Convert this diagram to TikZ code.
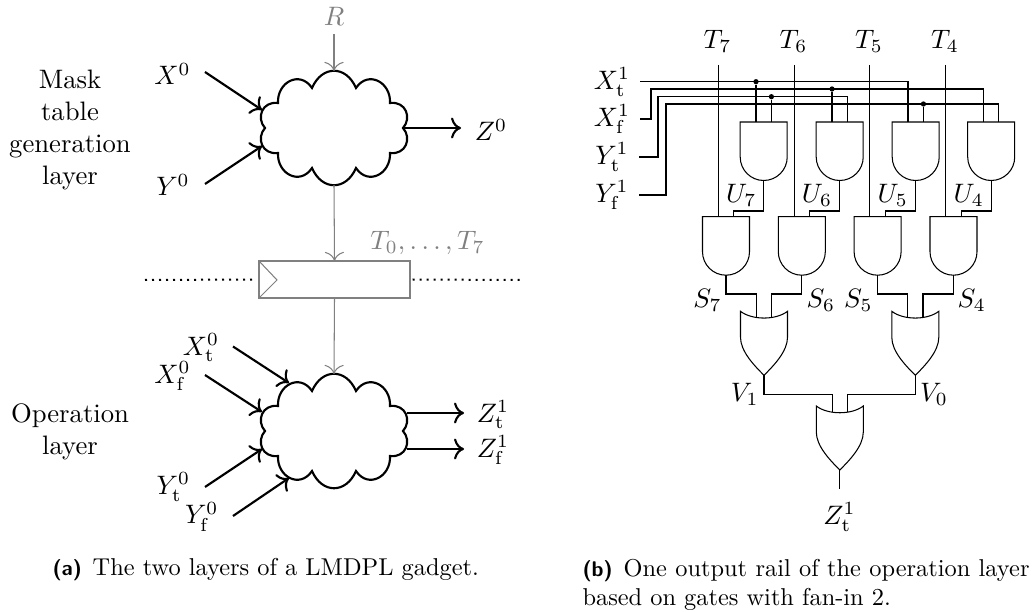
\documentclass[tikz,border=0pt]{standalone}
\usetikzlibrary{arrows.meta}
\begin{document}
\newcommand{\cloudshape}{
  (69,0) .. controls (78,-10) and (72,-27) .. (56,-25)
  .. controls (57,-46) and (34,-58) .. (22,-40)
  .. controls (12,-63) and (-12,-63) .. (-22,-40)
  .. controls (-34,-58) and (-57,-46) .. (-56,-25)
  .. controls (-72,-27) and (-78,-10) .. (-69,0)
  .. controls (-78,10) and (-72,27) .. (-56,25)
  .. controls (-57,46) and (-34,58) .. (-22,40)
  .. controls (-12,63) and (12,63) .. (22,40)
  .. controls (34,58) and (57,46) .. (56,25)
  .. controls (72,27) and (78,10) .. (69,0) -- cycle}
\newcommand{\captag}[1]{{\sffamily\bfseries\fontsize{8.5}{10}\selectfont (#1)}\hspace{1.1pt}}
\begin{tikzpicture}[x=0.4pt,y=-0.4pt,line width=0.42pt,
  heavy/.style={line width=0.85pt},
  flow/.style={line width=0.85pt,-{To[scale=1.15]}},
  mask/.style={gray,-{To[scale=1.45]}},
  lbl/.style={inner sep=0pt,outer sep=0pt,scale=1.067,transform shape},
  captext/.style={inner sep=0pt,anchor=base west,font=\fontsize{9.75}{11.6}\selectfont},
  dotnode/.style={circle,fill=black,inner sep=0pt,minimum size=2.1pt},
  pics/andg/.style={code={
    \draw (-23.5,0) -- (23.5,0) -- (23.5,35) arc[start angle=0,end angle=180,x radius=23.5,y radius=23.5] -- cycle;
    \coordinate (-a) at (-7.7,0);
    \coordinate (-b) at (7.7,0);
    \coordinate (-o) at (0,58.7);
  }},
  pics/org/.style={code={
    \draw (-23.5,0) .. controls (-12,9) and (12,9) .. (23.5,0) -- (23.5,26)
      .. controls (23.5,40) and (10,54) .. (0,64)
      .. controls (-10,54) and (-23.5,40) .. (-23.5,26) -- cycle;
    \coordinate (-a) at (-7.7,6);
    \coordinate (-b) at (7.7,6);
    \coordinate (-o) at (0,64);
  }}]
\useasboundingbox (0,0) rectangle (1033,612);

% ---------- left part
\node[lbl,align=center] (masklayer) at (70,129.5) {Mask\\table\\generation\\layer};
\node[lbl,align=center] (oplayer) at (70,432) {Operation\\layer};

\begin{scope}[shift={(334,128)}]
  \draw[heavy] \cloudshape;
  \coordinate (c1t) at (0,-57);
  \coordinate (c1b) at (0,57);
  \coordinate (c1x) at (-72,-18);
  \coordinate (c1y) at (-72,18);
  \coordinate (c1z) at (69,0);
\end{scope}
\begin{scope}[shift={(334,431)}]
  \draw[heavy] \cloudshape;
  \coordinate (c2t) at (0,-57);
  \coordinate (c2xt) at (-45,-48);
  \coordinate (c2xf) at (-72,-19);
  \coordinate (c2yt) at (-72,18);
  \coordinate (c2yf) at (-45,47);
  \coordinate (c2zt) at (73,-18);
  \coordinate (c2zf) at (73,18);
\end{scope}

\node[lbl,gray] (R) at (334,16) {$R$};
\coordinate (Rs) at (334,34);
\draw[mask] (Rs) -- (c1t);

\node[lbl] (X0) at (172.5,74) {$X^0$};
\node[lbl] (Y0) at (173,185) {$Y^0$};
\node[lbl] (Z0) at (491,130) {$Z^0$};
\coordinate (X0s) at (205,72);
\coordinate (Y0s) at (205,184);
\coordinate (Z0e) at (461,128);
\draw[flow] (X0s) -- (c1x);
\draw[flow] (Y0s) -- (c1y);
\draw[flow] (c1z) -- (Z0e);

\node[lbl,gray] (T07) at (427.5,243) {$T_0,\ldots,T_7$};
\node[draw=gray,heavy,minimum width=60.4pt,minimum height=14.8pt,inner sep=0pt,outer sep=0pt] (reg) at (334.5,279.5) {};
\coordinate (regtri) at (277,280);
\draw[gray] (reg.north west) -- (regtri) -- (reg.south west);
\draw[mask] (c1b) -- (reg.north);
\draw[mask] (reg.south) -- (c2t);
\coordinate (dl) at (145,280);
\coordinate (dr) at (520,280);
\draw[dotted,line width=0.8pt] (dl) -- ([xshift=-1pt]reg.west);
\draw[dotted,line width=0.8pt] ([xshift=1pt]reg.east) -- (dr);

\node[lbl] (Xt0) at (201,347.5) {$X_{\mathrm{t}}^0$};
\node[lbl] (Xf0) at (172.5,376) {$X_{\mathrm{f}}^0$};
\node[lbl] (Yt0) at (173.3,487) {$Y_{\mathrm{t}}^0$};
\node[lbl] (Yf0) at (201.7,516.7) {$Y_{\mathrm{f}}^0$};
\node[lbl] (Zt1) at (493,414.5) {$Z_{\mathrm{t}}^1$};
\node[lbl] (Zf1) at (493,450) {$Z_{\mathrm{f}}^1$};
\coordinate (Xt0s) at (233,346.5);
\coordinate (Xf0s) at (205,375);
\coordinate (Yt0s) at (205,487);
\coordinate (Yf0s) at (233,516);
\coordinate (Zt1e) at (464,413);
\coordinate (Zf1e) at (464,449);
\draw[flow] (Xt0s) -- (c2xt);
\draw[flow] (Xf0s) -- (c2xf);
\draw[flow] (Yt0s) -- (c2yt);
\draw[flow] (Yf0s) -- (c2yf);
\draw[flow] (c2zt) -- (Zt1e);
\draw[flow] (c2zf) -- (Zf1e);

\node[captext] (capa) at (52,575) {\captag{a} The two layers of a LMDPL gadget.};
\node[captext,text width=178.8pt,align=justify] (capb) at (582,576) {\captag{b} One output rail of the operation layer based on gates with fan-in 2.};

% ---------- right part
\pic (u7) at (763.7,122) {andg};
\pic (u6) at (839.7,122) {andg};
\pic (u5) at (915.7,122) {andg};
\pic (u4) at (991.2,122) {andg};
\pic (s7) at (726,216.7) {andg};
\pic (s6) at (801.8,216.7) {andg};
\pic (s5) at (877.6,216.7) {andg};
\pic (s4) at (953.5,216.7) {andg};
\pic (v1) at (764,311.3) {org};
\pic (v0) at (915.3,311.3) {org};
\pic (z) at (839.8,406) {org};

\node[lbl] (T7) at (717.5,41.5) {$T_7$};
\node[lbl] (T6) at (793.5,41.5) {$T_6$};
\node[lbl] (T5) at (869,41.5) {$T_5$};
\node[lbl] (T4) at (945,41.5) {$T_4$};
\foreach \n/\g in {T7/s7,T6/s6,T5/s5,T4/s4}{
  \draw (\g-a |- 0,65) -- (\g-a);
}

\node[lbl] (Xt1) at (612,82) {$X_{\mathrm{t}}^1$};
\node[lbl] (Xf1) at (612,119) {$X_{\mathrm{f}}^1$};
\node[lbl] (Yt1) at (612,157) {$Y_{\mathrm{t}}^1$};
\node[lbl] (Yf1) at (612,195) {$Y_{\mathrm{f}}^1$};
\coordinate (a1) at (640,81.7);
\coordinate (a2) at (640,119);
\coordinate (a3) at (639,157);
\coordinate (a4) at (639,195);

\draw (a1) -- (a1 -| u5-a) -- (u5-a);
\draw (a2) -- (651,119) -- (651,89) -- (u4-a |- 0,89) -- (u4-a);
\draw (a3) -- (658,157) -- (658,96.7) -- (u6-b |- 0,96.7) -- (u6-b);
\draw (a4) -- (666,195) -- (666,104) -- (u4-b |- 0,104) -- (u4-b);

\node[dotnode] (d1) at (u7-a |- 0,81.7) {};
\node[dotnode] (d2) at (u6-a |- 0,89) {};
\node[dotnode] (d3) at (u7-b |- 0,96.7) {};
\node[dotnode] (d4) at (u5-b |- 0,104) {};
\draw (d1) -- (u7-a);
\draw (d3) -- (u7-b);
\draw (d2) -- (u6-a);
\draw (d4) -- (u5-b);

\foreach \u/\s in {u7/s7,u6/s6,u5/s5,u4/s4}{
  \draw (\u-o) -- (\u-o |- 0,211) -- (\s-b |- 0,211) -- (\s-b);
}
\node[lbl] (U7) at (741.3,195) {$U_7$};
\node[lbl] (U6) at (817,195) {$U_6$};
\node[lbl] (U5) at (892.8,195) {$U_5$};
\node[lbl] (U4) at (968.8,195) {$U_4$};

\draw (s7-o) -- (s7-o |- 0,294) -- (v1-a |- 0,294) -- (v1-a);
\draw (s6-o) -- (s6-o |- 0,294) -- (v1-b |- 0,294) -- (v1-b);
\draw (s5-o) -- (s5-o |- 0,294) -- (v0-a |- 0,294) -- (v0-a);
\draw (s4-o) -- (s4-o |- 0,294) -- (v0-b |- 0,294) -- (v0-b);
\node[lbl] (S7) at (707.5,300.5) {$S_7$};
\node[lbl] (S6) at (820.8,300.5) {$S_6$};
\node[lbl] (S5) at (858.3,300.5) {$S_5$};
\node[lbl] (S4) at (971.7,300.5) {$S_4$};

\draw (v1-o) -- (v1-o |- 0,394.3) -- (z-a |- 0,394.3) -- (z-a);
\draw (v0-o) -- (v0-o |- 0,394.3) -- (z-b |- 0,394.3) -- (z-b);
\node[lbl] (V1) at (744.7,394.7) {$V_1$};
\node[lbl] (V0) at (934,394.7) {$V_0$};

\node[lbl] (Ztout) at (839.5,517) {$Z_{\mathrm{t}}^1$};
\coordinate (ze) at (839.8,488.7);
\draw (z-o) -- (ze);
\end{tikzpicture}
\end{document}
